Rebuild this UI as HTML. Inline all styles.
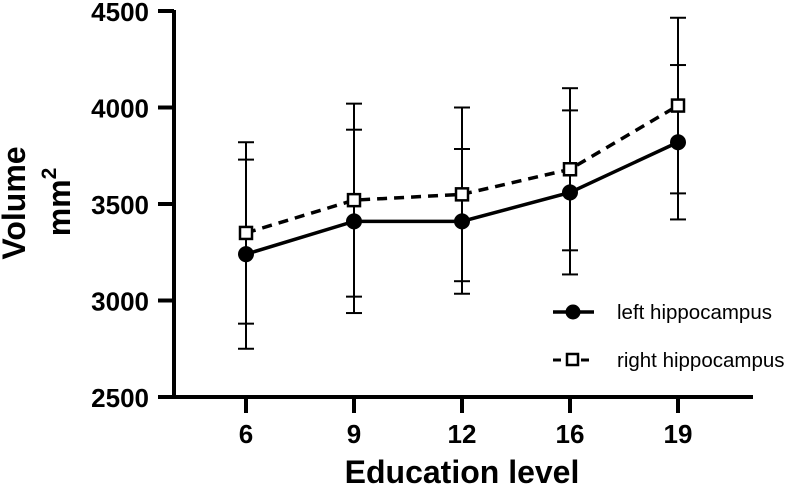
<!DOCTYPE html>
<html><head><meta charset="utf-8"><style>
body{margin:0;background:#fff}
svg{display:block;font-family:"Liberation Sans",Arial,sans-serif}
</style></head><body>
<svg id="chart" width="786" height="486" viewBox="0 0 786 486">
<g id="axes"></g>
<g id="marks"></g>
<text transform="translate(25,203) rotate(-90)" text-anchor="middle" font-size="32" font-weight="bold">Volume</text>
<text transform="translate(70,202) rotate(-90)" text-anchor="middle" font-size="32" font-weight="bold">mm<tspan dy="-14" font-size="21">2</tspan></text>
<text x="462" y="483" text-anchor="middle" font-size="32" font-weight="bold">Education level</text>
<g>
<line x1="553" y1="312" x2="594" y2="312" stroke="#000" stroke-width="3.5"/>
<circle cx="573" cy="312" r="7.5" fill="#000"/>
<text x="617" y="319" font-size="20.5">left hippocampus</text>
<line x1="553" y1="360" x2="594" y2="360" stroke="#000" stroke-width="3" stroke-dasharray="8,6"/>
<rect x="567" y="354" width="11" height="11" fill="#fff" stroke="#000" stroke-width="2.5"/>
<text x="617" y="367" font-size="20.5">right hippocampus</text>
</g>
</svg>
<script>
const categories=["6","9","12","16","19"];
const leftMean=[3240,3410,3410,3560,3820];
const leftErr=[490,475,375,425,400];
const rightMean=[3350,3520,3550,3680,4010];
const rightErr=[470,500,450,420,455];
const yTicks=[2500,3000,3500,4000,4500];
const NS="http://www.w3.org/2000/svg";
const x0=174,y0=397,pxPer=386/2000;
function yS(v){return y0-(v-2500)*pxPer;}
function xS(i){return 246+i*108;}
function mk(tag,attrs,parent){const e=document.createElementNS(NS,tag);for(const k in attrs)e.setAttribute(k,attrs[k]);parent.appendChild(e);return e;}
const axes=document.getElementById('axes'),marks=document.getElementById('marks');
let a=mk('line',{x1:x0,y1:yS(4500)-1,x2:x0,y2:y0+1.5,stroke:'#000','stroke-width':4},axes);


a=mk('line',{x1:x0-2,y1:y0,x2:753,y2:y0,stroke:'#000','stroke-width':4},axes);


yTicks.forEach(v=>{
 const t=mk('line',{x1:158,y1:yS(v),x2:x0,y2:yS(v),stroke:'#000','stroke-width':4},axes);
 
 
 const l=mk('text',{x:149,y:yS(v)+10,'text-anchor':'end','font-size':26,'font-weight':'bold'},axes);
 l.textContent=v;
 
 
});
categories.forEach((c,i)=>{
 const t=mk('line',{x1:xS(i),y1:y0,x2:xS(i),y2:413,stroke:'#000','stroke-width':4},axes);
 
 
 const l=mk('text',{x:xS(i),y:443,'text-anchor':'middle','font-size':26,'font-weight':'bold'},axes);
 l.textContent=c;
 
 
});
function errBars(mean,err,name){
 mean.forEach((m,i)=>{
  const g=mk('g',{stroke:'#000','stroke-width':2},marks);
  
  
  mk('line',{x1:xS(i),y1:yS(m+err[i]),x2:xS(i),y2:yS(m-err[i])},g);
  mk('line',{x1:xS(i)-8,y1:yS(m+err[i]),x2:xS(i)+8,y2:yS(m+err[i])},g);
  mk('line',{x1:xS(i)-8,y1:yS(m-err[i]),x2:xS(i)+8,y2:yS(m-err[i])},g);
 });
}
errBars(rightMean,rightErr,'right');
errBars(leftMean,leftErr,'left');
let p=mk('polyline',{points:rightMean.map((m,i)=>xS(i)+','+yS(m)).join(' '),fill:'none',stroke:'#000','stroke-width':3.5,'stroke-dasharray':'10,7'},marks);


p=mk('polyline',{points:leftMean.map((m,i)=>xS(i)+','+yS(m)).join(' '),fill:'none',stroke:'#000','stroke-width':3.5},marks);


rightMean.forEach((m,i)=>{
 const r=mk('rect',{x:xS(i)-6,y:yS(m)-6,width:12,height:12,fill:'#fff',stroke:'#000','stroke-width':2.5},marks);
 
 
});
leftMean.forEach((m,i)=>{
 const c=mk('circle',{cx:xS(i),cy:yS(m),r:8,fill:'#000'},marks);
 
 
});
</script>
</body></html>
